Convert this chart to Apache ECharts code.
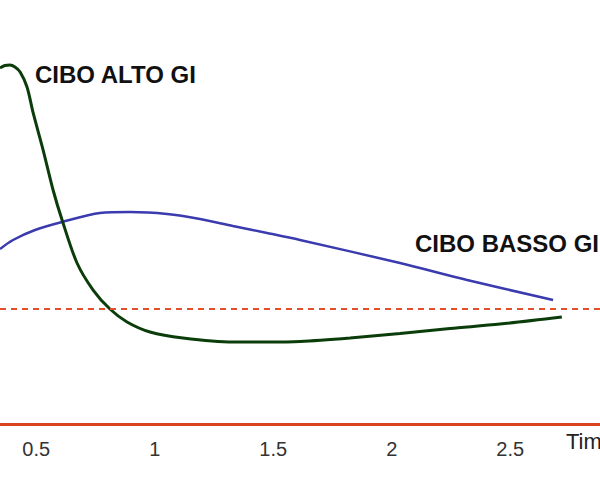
<!DOCTYPE html>
<html>
<head>
<meta charset="utf-8">
<script src="https://cdn.jsdelivr.net/npm/echarts@6/dist/echarts.min.js"></script>
<style>
html,body{margin:0;padding:0;background:#fff;}
#c{width:600px;height:480px;}
</style>
</head>
<body>
<div id="c"></div>
<script>
// Time (hours) and glucose level (relative units)
const highGiTime = [0.347, 0.368, 0.389, 0.410, 0.432, 0.461, 0.487, 0.529, 0.571, 0.609, 0.672, 0.740, 0.811, 0.883, 0.980, 1.119, 1.330, 1.474, 1.613, 1.824, 2.035, 2.246, 2.457, 2.718];
const highGiLevel = [83.96, 84.55, 84.67, 84.20, 83.02, 79.48, 73.35, 64.62, 55.19, 48.11, 37.97, 31.60, 27.12, 24.06, 21.70, 20.28, 19.34, 19.34, 19.46, 20.28, 21.34, 22.52, 23.58, 25.24];
const lowGiTime = [0.347, 0.402, 0.495, 0.609, 0.769, 0.896, 1.052, 1.191, 1.330, 1.474, 1.613, 2.035, 2.318, 2.681];
const lowGiLevel = [41.27, 43.40, 45.75, 47.64, 49.76, 50.00, 49.53, 48.35, 46.70, 45.05, 43.40, 37.97, 33.96, 29.25];
const baselineLevel = 27.12;
const xTickLabels = [0.5, 1, 1.5, 2, 2.5];
const xRange = [0.347, 2.879];
const labelHigh = 'CIBO ALTO GI';
const labelLow = 'CIBO BASSO GI';
const axisName = 'Time';

const zip = (a, b) => a.map((v, i) => [v, b[i]]);
const FONT = '"Liberation Sans", Arial, sans-serif';

const chart = echarts.init(document.getElementById('c'), null, {renderer: 'svg'});
chart.setOption({
  backgroundColor: '#fff',
  animation: false,
  grid: {left: 0, right: 0, top: 0, bottom: 56, containLabel: false},
  xAxis: {
    type: 'value',
    min: xRange[0],
    max: xRange[1],
    splitLine: {show: false},
    axisTick: {show: false},
    axisLine: {show: true, lineStyle: {color: '#d9441e', width: 3}},
    axisLabel: {color: '#333', fontSize: 20, fontFamily: FONT, margin: 15, customValues: xTickLabels}
  },
  yAxis: {
    type: 'value', min: 0, max: 100, show: false, splitLine: {show: false}
  },
  series: [
    {
      name: labelLow,
      type: 'line',
      data: zip(lowGiTime, lowGiLevel),
      smooth: 0.3,
      showSymbol: false,
      clip: true,
      lineStyle: {color: '#3b3bb0', width: 2.5},
      z: 3
    },
    {
      name: labelHigh,
      type: 'line',
      data: zip(highGiTime, highGiLevel),
      smooth: 0.3,
      showSymbol: false,
      clip: true,
      lineStyle: {color: '#0b3d0b', width: 3},
      z: 4,
      markLine: {
        silent: true,
        symbol: ['none', 'none'],
        label: {show: false},
        lineStyle: {color: '#e0502a', width: 2, type: [6, 5]},
        data: [{yAxis: baselineLevel}]
      }
    }
  ],
  graphic: [
    {type: 'text', left: 35, top: 62, style: {text: labelHigh, font: 'bold 24px ' + FONT, fill: '#111'}},
    {type: 'text', left: 415, top: 231, style: {text: labelLow, font: 'bold 24px ' + FONT, fill: '#111'}},
    {type: 'text', left: 566, top: 430, style: {text: axisName, font: '22px ' + FONT, fill: '#222'}}
  ]
});
</script>
</body>
</html>
